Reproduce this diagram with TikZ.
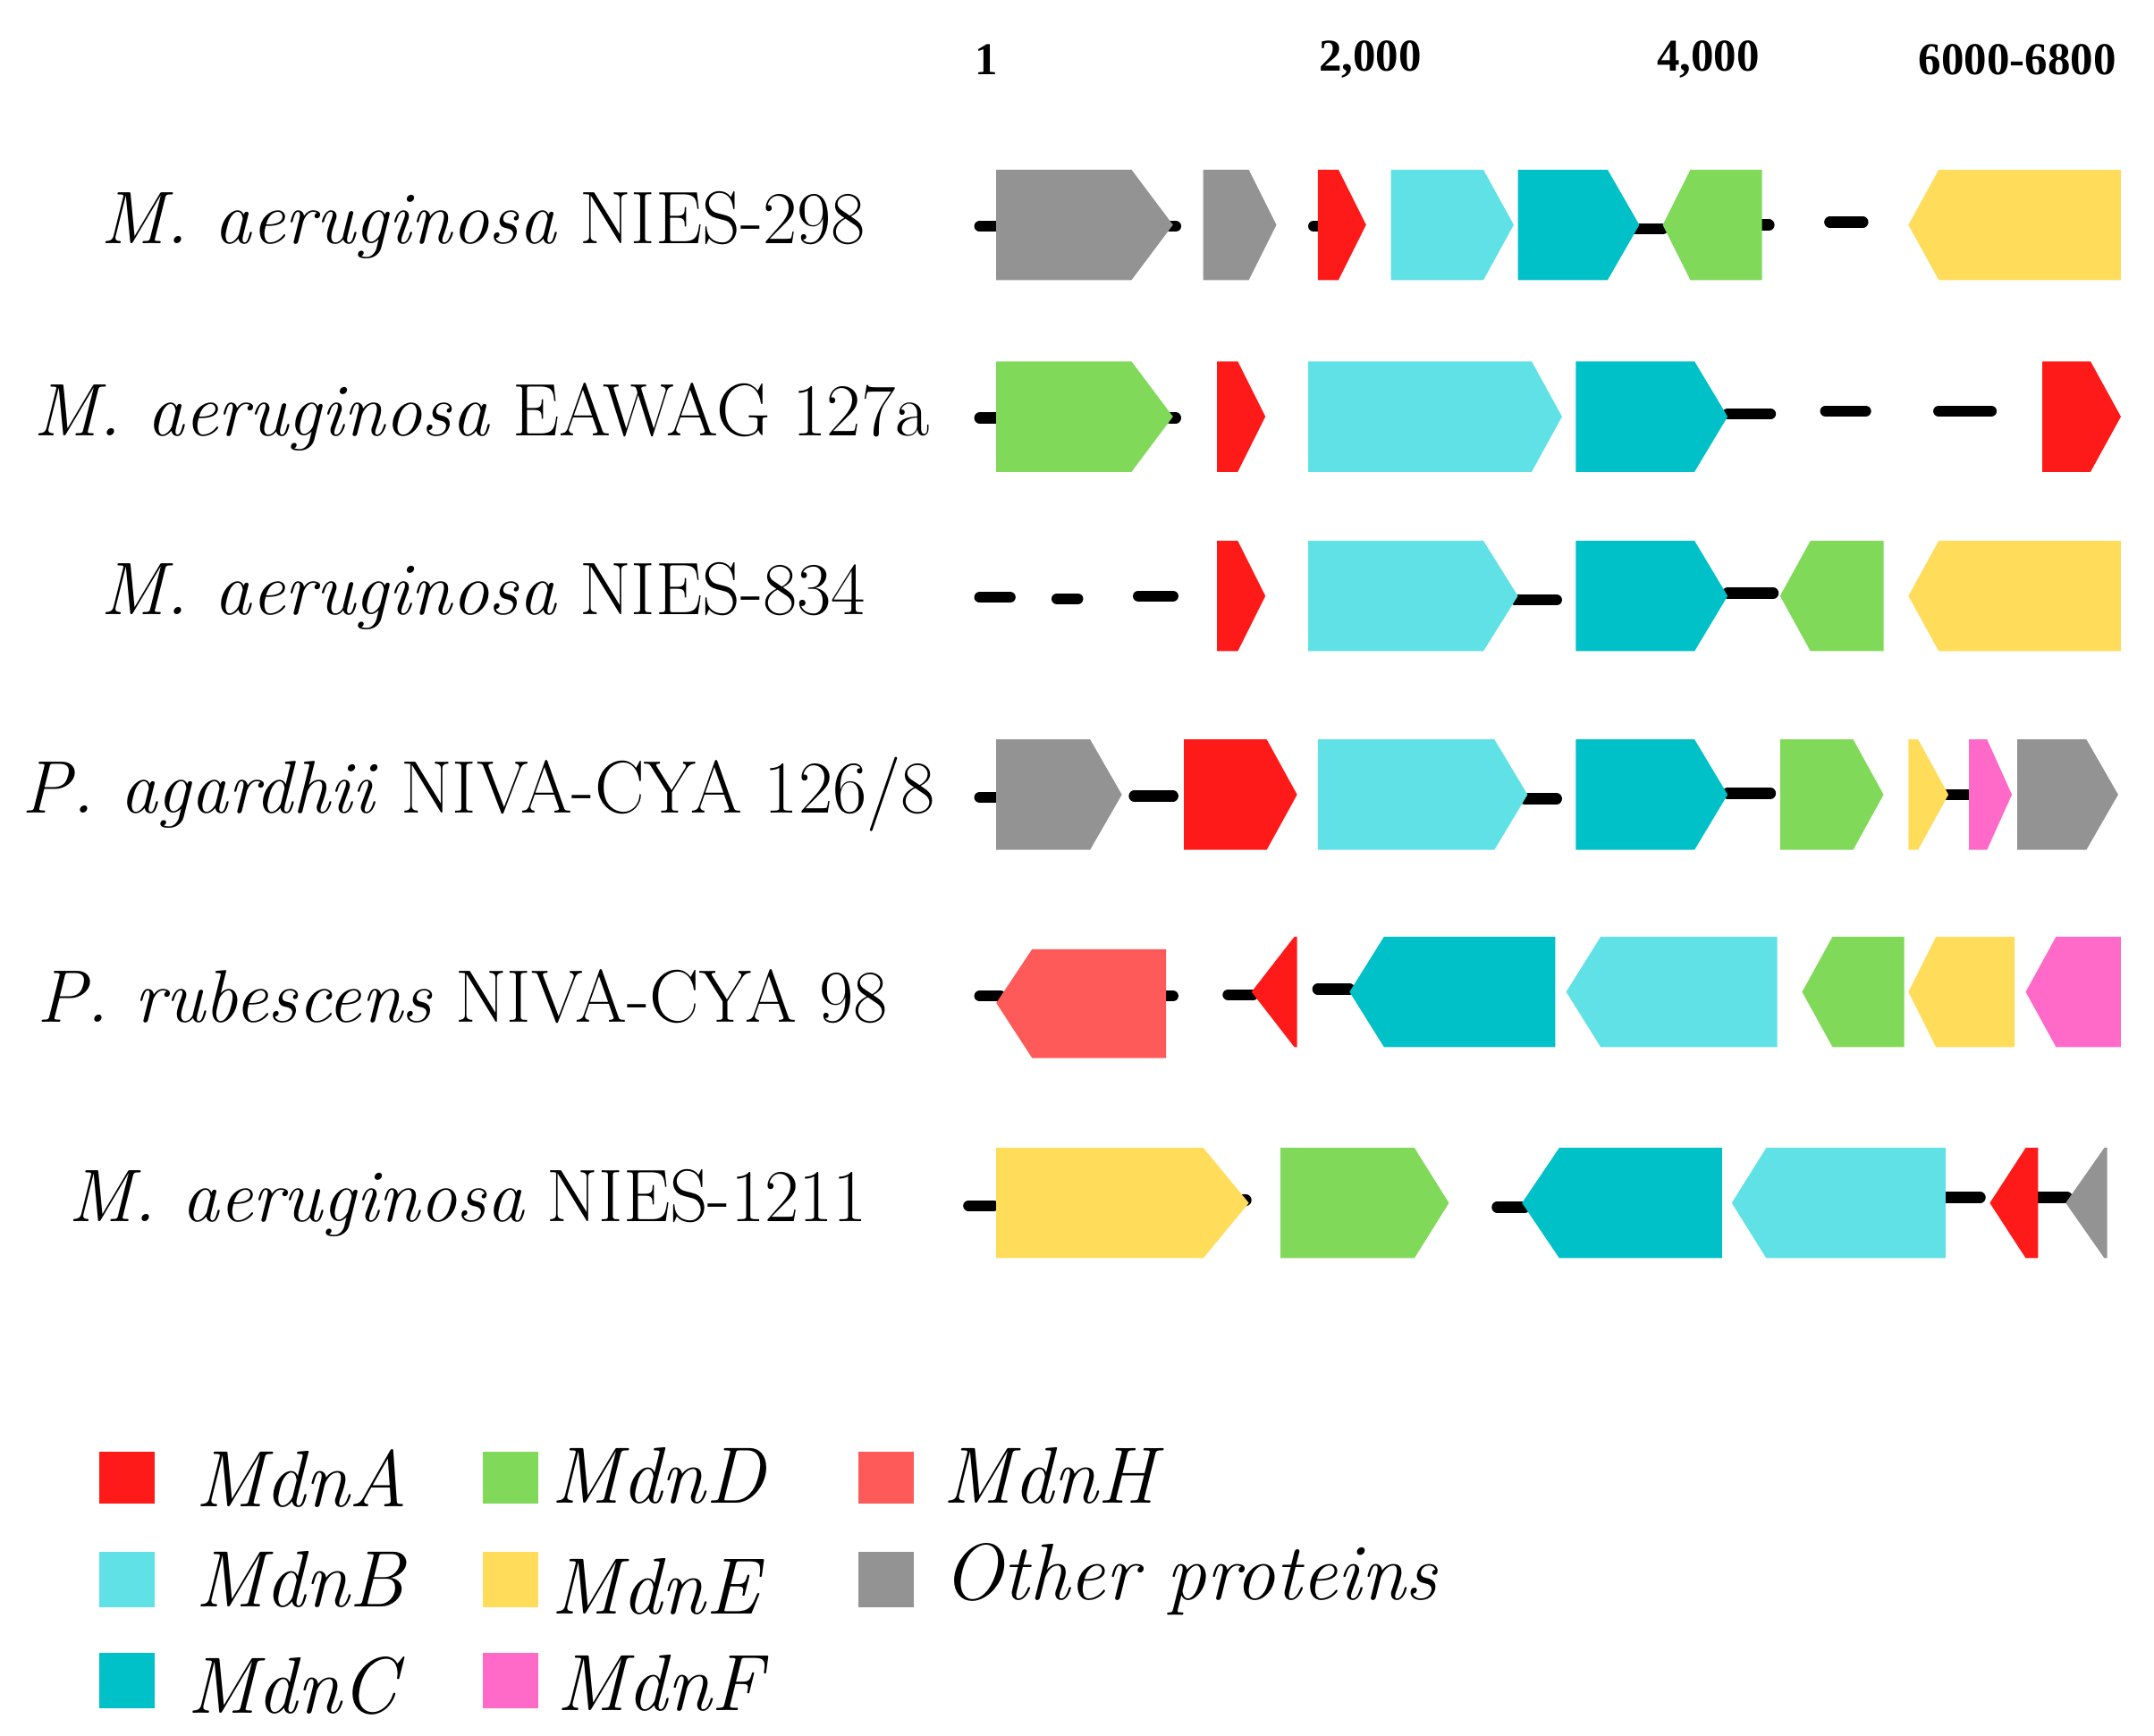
\documentclass[tikz,border=0pt]{standalone}
\usepackage{fontspec}
\newfontfamily\hdr{Liberation Serif}
\begin{document}
\definecolor{cA}{HTML}{FF1A1A}
\definecolor{cB}{HTML}{5FE1E6}
\definecolor{cC}{HTML}{00C0C8}
\definecolor{cD}{HTML}{80D959}
\definecolor{cE}{HTML}{FFDC5A}
\definecolor{cF}{HTML}{FF69C8}
\definecolor{cH}{HTML}{FF5A5A}
\definecolor{cO}{HTML}{939393}
\newcommand\gR[5]{\fill[#1] (#2,#5-40)--(#3,#5-40)--(#4,#5)--(#3,#5+40)--(#2,#5+40)--cycle;}
\newcommand\gL[5]{\fill[#1] (#4,#5-40)--(#3,#5-40)--(#2,#5)--(#3,#5+40)--(#4,#5+40)--cycle;}
\newcommand\bb[3]{\draw[bbs] (#1,#3)--(#2,#3);}
\begin{tikzpicture}[x=1pt,y=-1pt,
  bbs/.style={line width=8pt,line cap=round},
  lab/.style={font=\fontsize{54}{60}\selectfont,anchor=center},
  hd/.style={font=\hdr\bfseries\fontsize{33}{36}\selectfont},
  leg/.style={font=\itshape\fontsize{58}{62}\selectfont,anchor=west}]
\useasboundingbox (0,0) rectangle (1561,1258);
% header
\node[hd] (h1) at (715,43) {1};
\node[hd] (h2) at (993,43) {2,000};
\node[hd] (h3) at (1238,43) {4,000};
\node[hd] (h4) at (1462,43) {6000-6800};
% labels
\node[lab] (l1) at (350,163) {\textit{M. aeruginosa} NIES-298};
\node[lab] (l2) at (349,302) {\textit{M. aeruginosa} EAWAG 127a};
\node[lab] (l3) at (350,432) {\textit{M. aeruginosa} NIES-834};
\node[lab] (l4) at (347,576) {\textit{P. agardhii} NIVA-CYA 126/8};
\node[lab] (l5) at (335,722) {\textit{P. rubescens} NIVA-CYA 98};
\node[lab] (l6) at (339,872) {\textit{M. aeruginosa} NIES-1211};
% row 1
\bb{710}{725}{164}\bb{848}{852}{164}\bb{952}{956}{164}\bb{1185}{1205}{166}\bb{1275}{1282}{163}\bb{1326}{1350}{161}
\gR{cO}{722}{820}{850}{163}
\gR{cO}{872}{905}{925}{163}
\gR{cA}{955}{970}{990}{163}
\gR{cB}{1008}{1075}{1097}{163}
\gR{cC}{1100}{1165}{1188}{163}
\gL{cD}{1205}{1225}{1277}{163}
\gL{cE}{1383}{1405}{1537}{163}
% row 2
\bb{710}{725}{303}\bb{848}{852}{303}\bb{1252}{1283}{300}\bb{1323}{1352}{298}\bb{1405}{1443}{298}
\gR{cD}{722}{820}{850}{302}
\gR{cA}{882}{897}{917}{302}
\gR{cB}{948}{1110}{1132}{302}
\gR{cC}{1142}{1228}{1252}{302}
\gR{cA}{1480}{1515}{1537}{302}
% row 3
\bb{710}{732}{433}\bb{766}{781}{434}\bb{825}{850}{432}\bb{1098}{1128}{435}\bb{1252}{1285}{430}
\gR{cA}{882}{897}{917}{432}
\gR{cB}{948}{1075}{1100}{432}
\gR{cC}{1142}{1228}{1252}{432}
\gL{cD}{1290}{1312}{1365}{432}
\gL{cE}{1383}{1405}{1537}{432}
% row 4
\bb{710}{725}{578}\bb{822}{850}{577}\bb{1105}{1128}{579}\bb{1252}{1283}{575}\bb{1408}{1428}{576}
\gR{cO}{722}{790}{813}{576}
\gR{cA}{858}{918}{940}{576}
\gR{cB}{955}{1083}{1107}{576}
\gR{cC}{1142}{1228}{1252}{576}
\gR{cD}{1290}{1343}{1365}{576}
\gR{cE}{1383}{1390}{1412}{576}
\gR{cF}{1427}{1440}{1458}{576}
\gR{cO}{1462}{1512}{1535}{576}
% row 5
\bb{710}{725}{722}\bb{843}{850}{722}\bb{890}{908}{721}\bb{955}{978}{717}
\fill[cH] (845,688)--(748,688)--(722,727)--(748,767)--(845,767)--cycle;
\gL{cA}{907}{938}{940}{719}
\gL{cC}{978}{1003}{1127}{719}
\gL{cB}{1135}{1160}{1288}{719}
\gL{cD}{1306}{1328}{1380}{719}
\gL{cE}{1383}{1403}{1460}{719}
\gL{cF}{1468}{1490}{1537}{719}
% row 6
\bb{702}{720}{874}\bb{898}{903}{870}\bb{1085}{1105}{875}\bb{1405}{1435}{868}\bb{1475}{1498}{868}
\gR{cE}{722}{872}{905}{872}
\gR{cD}{928}{1025}{1050}{872}
\gL{cC}{1103}{1130}{1248}{872}
\gL{cB}{1255}{1280}{1410}{872}
\gL{cA}{1442}{1468}{1477}{872}
\gL{cO}{1497}{1525}{1527}{872}
% legend
\fill[cA] (72,1052) rectangle (112,1090);
\fill[cB] (72,1125) rectangle (112,1165);
\fill[cC] (72,1198) rectangle (112,1238);
\fill[cD] (350,1052) rectangle (390,1090);
\fill[cE] (350,1125) rectangle (390,1165);
\fill[cF] (350,1198) rectangle (390,1238);
\fill[cH] (622,1052) rectangle (662,1090);
\fill[cO] (622,1125) rectangle (662,1165);
\node[leg] (tA) at (138,1072) {MdnA};
\node[leg] (tB) at (138,1145) {MdnB};
\node[leg] (tC) at (132,1222) {MdnC};
\node[leg] (tD) at (396,1070) {MdnD};
\node[leg] (tE) at (396,1150) {MdnE};
\node[leg] (tF) at (400,1220) {MdnF};
\node[leg] (tH) at (680,1070) {MdnH};
\node[leg] (tO) at (680,1145) {Other proteins};
\end{tikzpicture}
\end{document}
